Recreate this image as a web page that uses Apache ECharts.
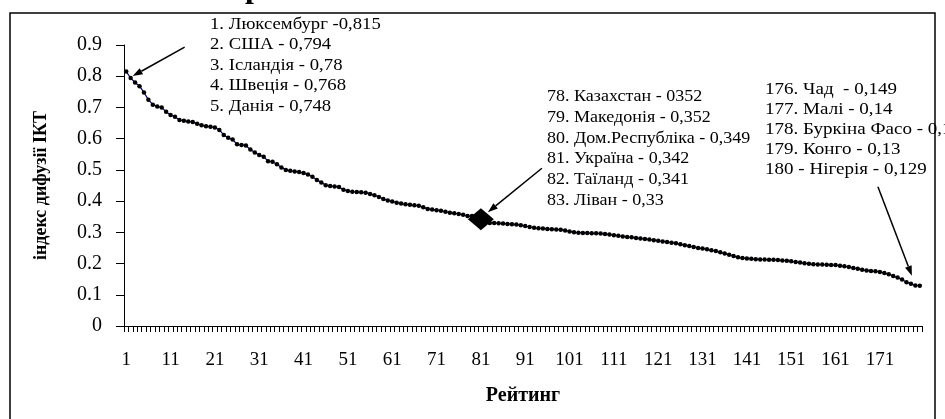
<!DOCTYPE html>
<html>
<head>
<meta charset="utf-8">
<script src="https://cdn.jsdelivr.net/npm/echarts@6/dist/echarts.min.js"></script>
<style>
  html, body { margin: 0; padding: 0; background: #fff; }
  #chart { width: 945px; height: 419px; }
</style>
</head>
<body>
<div id="chart"></div>
<script>
// ranks 1..180
var ranks = [];
for (var r = 1; r <= 180; r++) ranks.push(String(r));

// ICT diffusion index
var idxValues = [
    0.815, 0.794, 0.780, 0.768, 0.748, 0.725, 0.709, 0.703, 0.700, 0.686,
    0.676, 0.670, 0.660, 0.657, 0.655, 0.653, 0.648, 0.643, 0.640, 0.638,
    0.636, 0.628, 0.612, 0.603, 0.597, 0.582, 0.580, 0.578, 0.565, 0.556,
    0.548, 0.542, 0.528, 0.526, 0.518, 0.508, 0.500, 0.497, 0.495, 0.493,
    0.490, 0.485, 0.478, 0.468, 0.460, 0.451, 0.448, 0.447, 0.445, 0.436,
    0.432, 0.430, 0.429, 0.428, 0.427, 0.423, 0.419, 0.413, 0.407, 0.402,
    0.399, 0.395, 0.392, 0.390, 0.388, 0.387, 0.385, 0.380, 0.375, 0.373,
    0.371, 0.369, 0.366, 0.363, 0.361, 0.359, 0.356, 0.352, 0.352, 0.349,
    0.342, 0.341, 0.330, 0.330, 0.329, 0.328, 0.327, 0.326, 0.325, 0.323,
    0.320, 0.317, 0.315, 0.313, 0.312, 0.311, 0.310, 0.309, 0.308, 0.306,
    0.303, 0.300, 0.299, 0.298, 0.298, 0.297, 0.297, 0.296, 0.295, 0.293,
    0.291, 0.289, 0.287, 0.285, 0.284, 0.282, 0.280, 0.279, 0.277, 0.275,
    0.273, 0.271, 0.269, 0.267, 0.265, 0.262, 0.259, 0.256, 0.253, 0.250,
    0.248, 0.246, 0.243, 0.240, 0.236, 0.232, 0.228, 0.224, 0.220, 0.218,
    0.216, 0.215, 0.214, 0.213, 0.213, 0.212, 0.212, 0.211, 0.210, 0.209,
    0.207, 0.205, 0.203, 0.201, 0.199, 0.198, 0.197, 0.197, 0.196, 0.195,
    0.195, 0.193, 0.191, 0.189, 0.186, 0.183, 0.180, 0.178, 0.176, 0.175,
    0.173, 0.170, 0.166, 0.160, 0.155, 0.149, 0.140, 0.135, 0.130, 0.129
];

var yTicks = { min: 0, max: 0.9, step: 0.1 };

var topLabels = ['1. Люксембург -0,815', '2. США - 0,794', '3. Ісландія - 0,78',
    '4. Швеція - 0,768', '5. Данія - 0,748'];
var midLabels = ['78. Казахстан - 0352', '79. Македонія - 0,352', '80. Дом.Республіка - 0,349',
    '81. Україна - 0,342', '82. Таїланд - 0,341', '83. Ліван - 0,33'];
var endLabels = ['176. Чад  - 0,149', '177. Малі - 0,14', '178. Буркіна Фасо - 0,135',
    '179. Конго - 0,13', '180 - Нігерія - 0,129'];

var FONT = "'Liberation Serif', 'Times New Roman', serif";

var chart = echarts.init(document.getElementById('chart'));

function textBlock(lines, x, y0, dy, sx) {
    var out = [];
    for (var i = 0; i < lines.length; i++) {
        out.push({
            type: 'text', x: x, y: y0 + i * dy - 9, z: 10, scaleX: sx,
            style: { text: lines[i], font: '17px ' + FONT, fill: '#000' }
        });
    }
    return out;
}

var option = {
    animation: false,
    backgroundColor: '#fff',
    grid: { left: 124, right: 23, top: 45, bottom: 93 },
    xAxis: {
        type: 'category',
        data: ranks,
        name: 'Рейтинг',
        nameLocation: 'middle',
        nameGap: 60,
        nameTextStyle: { fontFamily: FONT, fontWeight: 'bold', fontSize: 20, color: '#000' },
        axisLine: { lineStyle: { color: '#000', width: 1 } },
        axisTick: { show: true, interval: 0, length: 6, lineStyle: { color: '#000', width: 1 } },
        axisLabel: { interval: 9, margin: 25, fontFamily: FONT, fontSize: 19, color: '#000' },
        splitLine: { show: false }
    },
    yAxis: {
        type: 'value',
        min: yTicks.min,
        max: yTicks.max,
        interval: yTicks.step,
        name: 'індекс дифузії ІКТ',
        nameLocation: 'middle',
        nameGap: 74,
        nameTextStyle: { fontFamily: FONT, fontWeight: 'bold', fontSize: 18, color: '#000' },
        axisLine: { show: true, lineStyle: { color: '#000', width: 1 } },
        axisTick: { show: true, length: 8, lineStyle: { color: '#000' } },
        axisLabel: { margin: 22, fontFamily: FONT, fontSize: 20, color: '#000' },
        splitLine: { show: false }
    },
    series: [{
        type: 'line',
        data: idxValues,
        symbol: 'circle',
        symbolSize: 4.5,
        showAllSymbol: true,
        lineStyle: { color: '#000066', width: 1.2 },
        itemStyle: { color: '#000' },
        markPoint: {
            symbol: 'diamond',
            symbolSize: [26, 22],
            itemStyle: { color: '#000' },
            label: { show: false },
            data: [{ coord: ['81', 0.342] }]
        }
    }],
    graphic: [].concat(
        [{
            type: 'rect', shape: { x: 10, y: 13, width: 925, height: 420 }, silent: true,
            style: { fill: 'none', stroke: '#000', lineWidth: 1.5 }
        }, {
            type: 'text', x: 245, y: -27,
            style: { text: 'р', font: 'bold 32px ' + FONT, fill: '#000' }
        }],
        textBlock(topLabels, 210, 25, 20.5, 1.1),
        textBlock(midLabels, 547, 97, 20.8, 1.06),
        textBlock(endLabels, 765, 90, 20, 1.12)
    )
};
chart.setOption(option);

// arrows pointing at the data, anchored via the axes
function arrow(tip, dx, dy) {
    var sx = tip[0] + dx, sy = tip[1] + dy;
    var len = Math.sqrt(dx * dx + dy * dy);
    var ux = -dx / len, uy = -dy / len;
    var hl = 10, hw = 3.5;
    var bx = tip[0] - ux * hl, by = tip[1] - uy * hl;
    return [{
        type: 'line', z: 20,
        shape: { x1: sx, y1: sy, x2: bx, y2: by },
        style: { stroke: '#000', lineWidth: 1.5 }
    }, {
        type: 'polygon', z: 20,
        shape: { points: [tip, [bx - uy * hw, by + ux * hw], [bx + uy * hw, by - ux * hw]] },
        style: { fill: '#000' }
    }];
}

var p2 = chart.convertToPixel({ seriesIndex: 0 }, ['2', idxValues[1]]);
var p81 = chart.convertToPixel({ seriesIndex: 0 }, ['81', idxValues[80]]);
var p178 = chart.convertToPixel({ seriesIndex: 0 }, ['178', idxValues[177]]);

var arrows = [].concat(
    arrow([p2[0] + 2, p2[1] - 2], 52, -29),
    arrow([p81[0] + 7, p81[1] - 7], 54, -44),
    arrow([p178[0] + 1, p178[1] - 8], -34, -89)
);
chart.setOption({ graphic: option.graphic.concat(arrows) });
</script>
</body>
</html>
